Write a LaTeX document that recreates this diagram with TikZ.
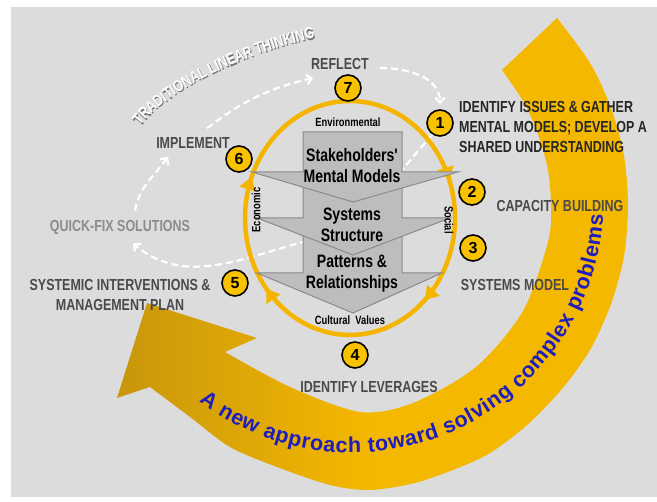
\documentclass[tikz,border=0pt]{standalone}
\usepackage{fontspec}
\setmainfont{Liberation Sans}
\newfontfamily\narrowfont[FakeStretch=0.78]{Liberation Sans}
\usetikzlibrary{arrows.meta,decorations.markings,decorations.text}
\pgfdeclarelayer{back}
\pgfdeclarelayer{dashes}
\pgfsetlayers{back,dashes,main}
\definecolor{bggray}{HTML}{DCDCDC}
\definecolor{ringyellow}{HTML}{F5B400}
\definecolor{banddark}{HTML}{C8960C}
\definecolor{bandlight}{HTML}{F5B800}
\definecolor{numyellow}{HTML}{F8C200}
\definecolor{labelgray}{HTML}{4A4A4A}
\definecolor{issuetext}{HTML}{262626}
\definecolor{fixgray}{HTML}{8C8C8C}
\definecolor{chevfill}{HTML}{BDBDBD}
\definecolor{chevline}{HTML}{8A8A8A}
\definecolor{newblue}{HTML}{1E1EBE}
\begin{document}
\begin{tikzpicture}[x=1pt, y=1pt, line join=round,
	lbl/.style={text=labelgray, font=\narrowfont\bfseries\fontsize{16}{20}\selectfont, inner sep=2pt, align=center},
	small/.style={font=\narrowfont\bfseries\fontsize{12}{14}\selectfont, inner sep=1pt},
	chevtext/.style={font=\narrowfont\bfseries\fontsize{18}{21}\selectfont, align=center, inner sep=1pt},
	numc/.style={circle, draw=black, line width=1.6pt, fill=numyellow, minimum size=26pt, inner sep=0pt, font=\bfseries\fontsize{16}{16}\selectfont},
	dashline/.style={white, line width=2.2pt, dash pattern=on 7pt off 4pt, -{Straight Barb[length=5pt,width=10pt]}},
	chevron/.style={fill=chevfill, draw=chevline, line width=1pt, line join=miter},
	ringline/.style={draw=ringyellow, line width=4.5pt}]
	\useasboundingbox (0,0) rectangle (657,502);
	\begin{pgfonlayer}{back}
	\fill[white] (0,0) rectangle (657,502);
	\fill[bggray] (11,5) rectangle (657,495);
	\path[left color=banddark, right color=bandlight, middle color=bandlight]
		plot[smooth] coordinates {(557,484) (590,439) (611,394) (624,346) (628,296) (624,246) (611,198) (590,152) (561,112) (526,76) (490,49) (458,34) (415,19) (370,12) (330,17) (277,35) (230,55) (190,85) (150,115)}
		-- (117,104) -- (147,199) -- (257,164) -- (225,150)
		-- plot[smooth] coordinates {(225,150) (290,115) (360,90) (413,99) (476,135) (523,191) (548,260) (551,296) (548,332) (538,368) (523,401) (502,432)} -- cycle;
	\path[decorate, decoration={text along path, text color=newblue, text align={fit to path},
		text={|\bfseries\fontsize{21.5}{21.5}\selectfont|A new approach toward solving complex problems}}]
		(351.6,301.4) ++(-127.3:252) arc[start angle=-127.3, end angle=-3.3, radius=252];
	\foreach \dx/\dy/\col in {1.1/-1.1/black!55, 0/0/white}
		\path[shift={(\dx,\dy)}, decorate, decoration={text along path, text color=\col, text align={fit to path},
			text={|\narrowfont\bfseries\fontsize{16}{16}\selectfont|TRADITIONAL LINEAR THINKING}}]
			(140,376) .. controls (168,414) and (255,452) .. (315,464);
	\end{pgfonlayer}

	\draw[ringline, postaction=decorate, decoration={markings,
		mark=at position 0.055 with {\arrowreversed{Triangle[width=16pt,length=13pt]}},
		mark=at position 0.44 with {\arrowreversed{Triangle[width=16pt,length=13pt]}},
		mark=at position 0.607 with {\arrowreversed{Triangle[width=16pt,length=13pt]}},
		mark=at position 0.872 with {\arrowreversed{Triangle[width=16pt,length=13pt]}}}]
		(350,284) ellipse [x radius=105, y radius=117];

	\foreach \ytop/\ywing/\lx/\rx/\ytip in {284/229/257/442/189, 330/284/257/450/247, 370/330/252/458/300}
		\draw[chevron] (303,\ytop) -- (303,\ywing) -- (\lx,\ywing) -- (353,\ytip) -- (\rx,\ywing) -- (402,\ywing) -- (402,\ytop) -- cycle;
	\node[chevtext] (stake) at (352,336) {Stakeholders'\\Mental Models};
	\node[chevtext] (struct) at (352,277) {Systems\\Structure};
	\node[chevtext] (patt) at (352,228) {Patterns \&\\Relationships};
	\node[small] (env) at (348,380) {Environmental};
	\node[small, rotate=90] (econ) at (256,292) {Economic};
	\node[small, rotate=-90] (social) at (449,282) {Social};
	\node[small] (cult) at (350,182) {Cultural\ \ Values};

	\node[numc] (n1) at (440,379) {1};
	\node[numc] (n2) at (472,310) {2};
	\node[numc] (n3) at (473,254) {3};
	\node[numc] (n4) at (355,147) {4};
	\node[numc] (n5) at (235,219) {5};
	\node[numc] (n6) at (239,343) {6};
	\node[numc] (n7) at (348,414) {7};

	\node[lbl] (reflect) at (340,438) {REFLECT};
	\node[lbl, text=issuetext, align=left, anchor=west] (issues) at (457,375) {IDENTIFY ISSUES \& GATHER\\MENTAL MODELS; DEVELOP A\\SHARED UNDERSTANDING};
	\node[lbl] (capacity) at (560,296) {CAPACITY BUILDING};
	\node[lbl] (sysmodel) at (515,217) {SYSTEMS MODEL};
	\node[lbl] (leverage) at (369,115) {IDENTIFY LEVERAGES};
	\node[lbl] (interv) at (120,207) {SYSTEMIC INTERVENTIONS \&\\MANAGEMENT PLAN};
	\node[lbl] (implement) at (193,359) {IMPLEMENT};
	\node[lbl, text=fixgray] (quickfix) at (120,275) {QUICK-FIX SOLUTIONS};

	\begin{pgfonlayer}{dashes}
	\draw[dashline] ([shift={(14,7)}]implement.north) to[bend left=12] ([shift={(4,-6)}]reflect.south west);
	\draw[dashline] ([shift={(9,-4)}]reflect.east) to[out=0,in=90] ([yshift=5]n1.north);
	\draw[dashline] ([shift={(15,7)}]quickfix.north) to[out=80,in=235] ([shift={(-25,-6)}]implement.south);
	\draw[dashline] (n1.235) -- (403,333) -- (303,260) to[out=195,in=-40] ([shift={(13,-7)}]quickfix.south);
	\end{pgfonlayer}
\end{tikzpicture}
\end{document}
